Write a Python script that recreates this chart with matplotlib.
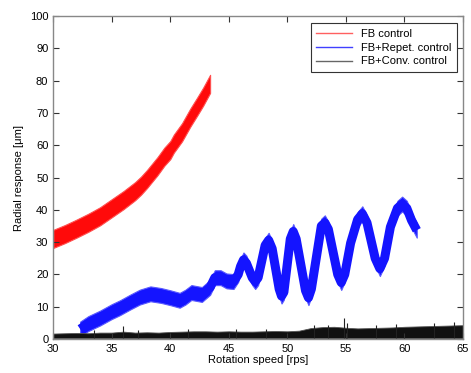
import numpy as np
import matplotlib
matplotlib.use('Agg')
import matplotlib.pyplot as plt

plt.rcParams['font.family'] = ['Liberation Sans', 'DejaVu Sans']
plt.rcParams['font.size'] = 8

# FB control (red band): speed vs band centre, half width of the band
red_x = [30, 31, 32, 33, 34, 35, 36, 37, 37.5, 38, 38.9, 39.5, 40, 40.3, 41, 41.7, 42.3, 42.8, 43.1, 43.4]
red_c = [31, 32.5, 34.2, 36, 38, 40.5, 43, 45.8, 47.5, 49.5, 53.5, 56.5, 58.5, 60.5, 64, 68.5, 72, 75, 77, 79]
red_w = 2.8

# FB+Repet. control (blue band)
blue_x = [32.3, 33.0, 34.0, 35.0, 35.7, 36.6, 37.4, 38.3, 39.2, 40.0, 40.8, 41.3, 41.8, 42.7,
          43.4, 43.8, 44.3, 44.8, 45.4, 45.8, 46.0, 46.25, 46.5, 47.0, 47.25, 47.5, 48.1,
          48.4, 48.7, 49.3, 49.5, 49.7, 50.25, 50.5, 50.75, 51.55, 51.8, 52.05, 52.9, 53.2,
          53.5, 54.3, 54.6, 54.9, 55.4, 56.0, 56.4, 56.8, 57.5, 57.9, 58.3, 58.8, 59.4,
          59.8, 60.2, 60.6, 61.05]
blue_c = [3.1, 4.8, 6.5, 8.5, 9.7, 11.5, 13, 14, 13.5, 12.8, 12, 13, 14.4, 13.8,
          16, 19, 19, 18, 17.8, 20, 22.5, 24.5, 23.5, 19, 17.8, 19, 29,
          30.6, 28, 15.5, 13.3, 14.5, 31, 33.3, 31, 15, 12.8, 15.5, 35, 36,
          34, 20, 17.5, 20, 29.7, 37, 38.8, 36, 25, 21.8, 25, 34.7, 40.5,
          41.8, 40.5, 36.8, 33.7]
blue_w = 2.3

# FB+Conv. control (black noise band): upper edge every 1 rps, plus spikes
black_x = list(range(30, 66))
black_hi = [1.7, 1.8, 1.9, 1.8, 2.0, 2.0, 2.3, 2.0, 2.1, 2.0, 2.2, 2.3, 2.4, 2.4, 2.3, 2.4,
            2.3, 2.3, 2.4, 2.5, 2.4, 2.6, 3.4, 3.7, 3.8, 3.5, 3.3, 3.4, 3.5, 3.6, 3.8, 3.9,
            4.0, 4.1, 4.2, 4.3]
black_lo = 0.3
spike_x = [33.5, 36.0, 37.2, 41.5, 45.6, 48.2, 52.3, 53.5, 54.8, 55.1, 57.6, 59.3, 62.5, 64.2]
spike_y = [2.7, 4.0, 2.9, 3.0, 3.0, 3.2, 4.3, 4.5, 6.5, 5.0, 4.4, 4.6, 5.0, 5.2]

fig = plt.figure(figsize=(4.71, 3.73), dpi=100)
ax = fig.add_axes([0.113, 0.091, 0.870, 0.866])

rc = np.array(red_c)
ax.fill_between(red_x, rc - red_w, rc + red_w, color='#ff0a0a', lw=0.8, edgecolor='#ff5050')

bc = np.array(blue_c)
ax.fill_between(blue_x, bc - blue_w, bc + blue_w, color='#1414ff', lw=0.8, edgecolor='#5a5aff')
ax.plot(blue_x, blue_c, color='#1414ff', lw=6.5, solid_joinstyle='round', solid_capstyle='butt')

ax.fill_between(black_x, black_lo, black_hi, color='#111111', lw=0.6, edgecolor='#555555')
ax.vlines(spike_x, 0.3, spike_y, color='#222222', lw=0.8)

# legend proxies
ax.plot([], [], color='#ff6060', lw=1, label='FB control')
ax.plot([], [], color='#4040ff', lw=1, label='FB+Repet. control')
ax.plot([], [], color='#666666', lw=1, label='FB+Conv. control')
leg = ax.legend(loc='upper right', bbox_to_anchor=(0.985, 0.978), borderaxespad=0,
                fancybox=False, framealpha=1, edgecolor='#333333', fontsize=8,
                handlelength=3.2, labelspacing=0.35, borderpad=0.5)
leg.get_frame().set_linewidth(0.8)

ax.set_xlim(30, 65)
ax.set_ylim(0, 100)
ax.set_xticks(range(30, 66, 5))
ax.set_yticks(range(0, 101, 10))
ax.tick_params(direction='in', top=True, right=True, length=4, width=0.8,
               colors='#333333', labelcolor='black', labelsize=8)
for s in ax.spines.values():
    s.set_color('#888888')
    s.set_linewidth(1)
ax.set_xlabel('Rotation speed [rps]', fontsize=8, labelpad=1)
ax.set_ylabel('Radial response [μm]', fontsize=8, labelpad=4)

fig.savefig('out.png', dpi=100)
